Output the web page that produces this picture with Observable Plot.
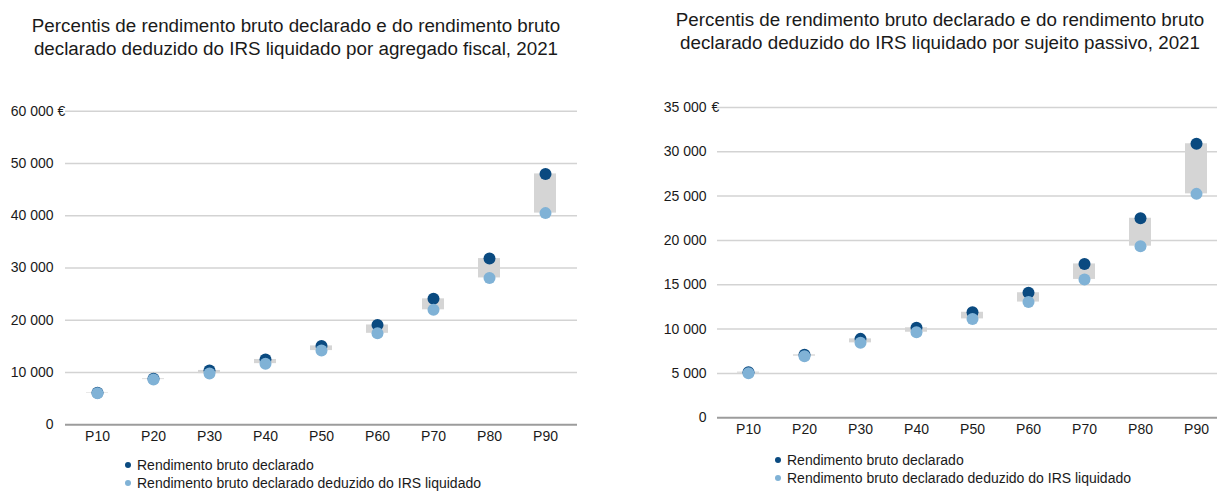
<!DOCTYPE html>
<html>
<head>
<meta charset="utf-8">
<script src="https://cdn.jsdelivr.net/npm/d3@7"></script>
<script src="https://cdn.jsdelivr.net/npm/@observablehq/plot@0.6"></script>
<style>
  body { margin: 0; background: #fff; font-family: "Liberation Sans", Arial, sans-serif; color: #1a1a1a; overflow: hidden; }
  #root { position: relative; width: 1217px; height: 491px; overflow: hidden; }
  .title { position: absolute; font-size: 18.8px; line-height: 23px; text-align: center; white-space: nowrap; }
  .legend { position: absolute; font-size: 14px; line-height: 17.5px; white-space: nowrap; }
  .legend .sw { display: inline-block; width: 6px; height: 6px; border-radius: 50%; margin-right: 6px; vertical-align: middle; position: relative; top: -1px; }
  .chart { position: absolute; top: 0; }
</style>
</head>
<body>
<div id="root">
  <div class="title" style="left:0px; width:592px; top:14px;">Percentis de rendimento bruto declarado e do rendimento bruto<br>declarado deduzido do IRS liquidado por agregado fiscal, 2021</div>
  <div class="title" style="left:640px; width:600px; top:8px;">Percentis de rendimento bruto declarado e do rendimento bruto<br>declarado deduzido do IRS liquidado por sujeito passivo, 2021</div>
  <div id="left" class="chart" style="left:0px;"></div>
  <div id="right" class="chart" style="left:620px;"></div>
  <div class="legend" id="legLeft" style="left:125px; top:457px;"></div>
  <div class="legend" id="legRight" style="left:775px; top:452px;"></div>
</div>
<script>
// ---- Data ----
const percentis = ["P10", "P20", "P30", "P40", "P50", "P60", "P70", "P80", "P90"];

// Por agregado fiscal
const agregadoBruto   = [6150, 8800, 10400, 12500, 15100, 19100, 24100, 31800, 48000];
const agregadoLiquido = [6050, 8650, 9800, 11700, 14200, 17500, 22000, 28100, 40500];

// Por sujeito passivo
const sujeitoBruto    = [5150, 7100, 8900, 10150, 11900, 14100, 17350, 22500, 30900];
const sujeitoLiquido  = [5030, 6950, 8450, 9650, 11150, 13050, 15600, 19350, 25250];

const yTicksLeft  = [0, 10000, 20000, 30000, 40000, 50000, 60000];
const yTicksRight = [0, 5000, 10000, 15000, 20000, 25000, 30000, 35000];

const seriesNames = ["Rendimento bruto declarado", "Rendimento bruto declarado deduzido do IRS liquidado"];
const colorBruto = "#0a4a80";
const colorLiquido = "#80b2d6";
const colorRange = "#d5d5d5";

const fmt = d => d3.format(",")(d).replace(/,/g, " ");

function makeChart(bruto, liquido, yTicks, o) {
  const data = percentis.map((p, i) => ({p, bruto: bruto[i], liquido: liquido[i]}));
  const yMax = yTicks[yTicks.length - 1];
  return Plot.plot({
    width: o.width,
    height: 491,
    marginLeft: o.marginLeft,
    marginRight: o.marginRight,
    marginTop: o.marginTop,
    marginBottom: o.marginBottom,
    style: {background: "transparent", overflow: "visible", fontFamily: "'Liberation Sans', Arial, sans-serif", fontSize: "14px", color: "#1a1a1a", maxWidth: "none"},
    x: {domain: percentis, range: o.xRange, padding: 0, label: null},
    y: {domain: [0, yMax], label: null},
    marks: [
      Plot.ruleY(yTicks.filter(d => d > 0), {stroke: "#d3d3d3", strokeWidth: 1.5}),
      Plot.ruleY([0], {stroke: "#9c9c9c", strokeWidth: 2}),
      Plot.barY(data, {x: "p", y1: "liquido", y2: "bruto", fill: colorRange, insetLeft: o.inset, insetRight: o.inset}),
      Plot.dot(data, {x: "p", y: "bruto", r: 6, fill: colorBruto}),
      Plot.dot(data, {x: "p", y: "liquido", r: 6, fill: colorLiquido}),
      Plot.axisY(yTicks, {tickSize: 0, tickPadding: o.tickPad, tickFormat: fmt, fontSize: 14, label: null}),
      Plot.axisX({tickSize: 0, tickPadding: 6, fontSize: 14, label: null}),
      Plot.text([yMax], {y: d => d, frameAnchor: "left", dx: o.euroDx, text: () => "€", textAnchor: "start", fontSize: 14, fill: "#1a1a1a"})
    ]
  });
}

document.getElementById("left").append(makeChart(agregadoBruto, agregadoLiquido, yTicksLeft, {
  width: 600, marginLeft: 65, marginRight: 23, marginTop: 110.7, marginBottom: 491 - 424.3,
  xRange: [65, 577], inset: 17, tickPad: 12, euroDx: -8
}));

document.getElementById("right").append(makeChart(sujeitoBruto, sujeitoLiquido, yTicksRight, {
  width: 597, marginLeft: 97, marginRight: 0, marginTop: 106.9, marginBottom: 491 - 417.3,
  xRange: [97, 606], inset: 17, tickPad: 11, euroDx: -6
}));

function legend(el) {
  const colors = [colorBruto, colorLiquido];
  seriesNames.forEach((name, i) => {
    const row = document.createElement("div");
    const sw = document.createElement("span");
    sw.className = "sw";
    sw.style.background = colors[i];
    row.append(sw, document.createTextNode(name));
    el.append(row);
  });
}
legend(document.getElementById("legLeft"));
legend(document.getElementById("legRight"));
</script>
</body>
</html>
